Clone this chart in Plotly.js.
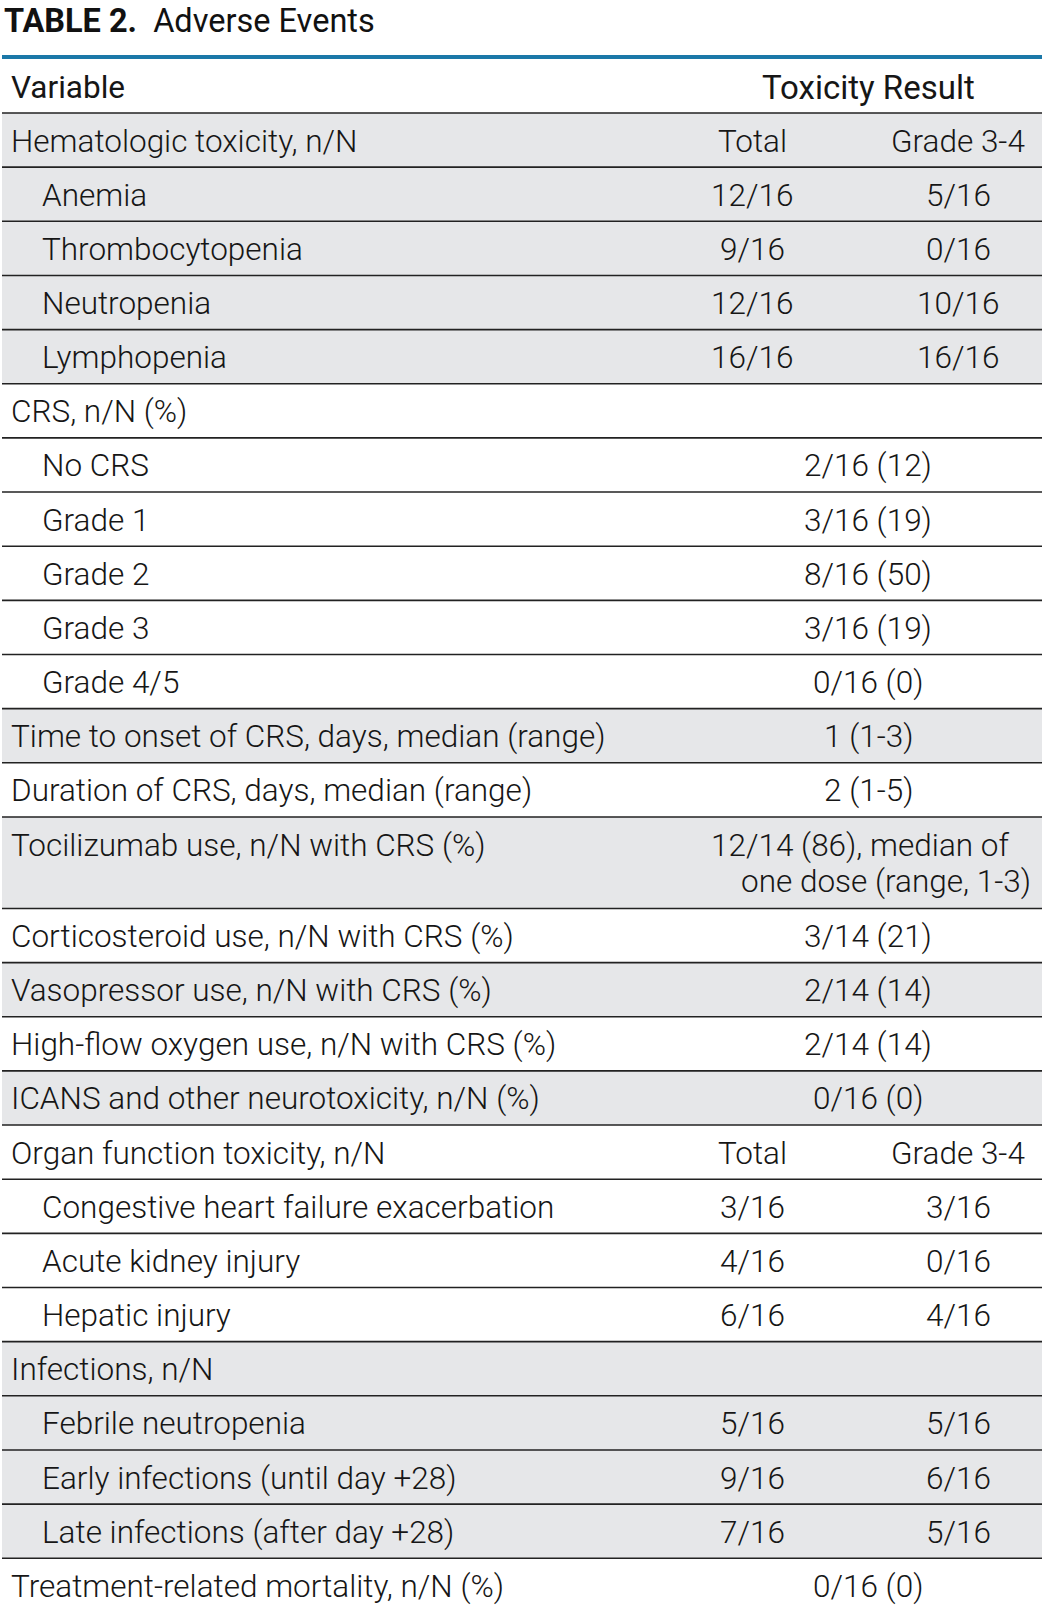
<!DOCTYPE html>
<html><head><meta charset="utf-8">
<script src="https://cdn.plot.ly/plotly-3.0.1.min.js"></script>
<style>html,body{margin:0;padding:0;background:#fff;overflow:hidden}</style>
</head><body><div id="chart" style="width:1042px;height:1614px"></div>
<script>
// ---------- DATA ----------
const tableLabel = "TABLE 2.";
const tableName = "Adverse Events";
const headerVariable = "Variable";
const headerResult = "Toxicity Result";

const variables = [
  "Hematologic toxicity, n/N",
  "Anemia",
  "Thrombocytopenia",
  "Neutropenia",
  "Lymphopenia",
  "CRS, n/N (%)",
  "No CRS",
  "Grade 1",
  "Grade 2",
  "Grade 3",
  "Grade 4/5",
  "Time to onset of CRS, days, median (range)",
  "Duration of CRS, days, median (range)",
  "Tocilizumab use, n/N with CRS (%)",
  "Corticosteroid use, n/N with CRS (%)",
  "Vasopressor use, n/N with CRS (%)",
  "High-flow oxygen use, n/N with CRS (%)",
  "ICANS and other neurotoxicity, n/N (%)",
  "Organ function toxicity, n/N",
  "Congestive heart failure exacerbation",
  "Acute kidney injury",
  "Hepatic injury",
  "Infections, n/N",
  "Febrile neutropenia",
  "Early infections (until day +28)",
  "Late infections (after day +28)",
  "Treatment-related mortality, n/N (%)"
];
const totalValues = [
  "Total", "12/16", "9/16", "12/16", "16/16",
  "", "", "", "", "", "", "", "", "", "", "", "", "",
  "Total", "3/16", "4/16", "6/16",
  "", "5/16", "9/16", "7/16", ""
];
const grade34Values = [
  "Grade 3-4", "5/16", "0/16", "10/16", "16/16",
  "", "", "", "", "", "", "", "", "", "", "", "", "",
  "Grade 3-4", "3/16", "0/16", "4/16",
  "", "5/16", "6/16", "5/16", ""
];
const combinedValues = [
  "", "", "", "", "",
  "", "2/16 (12)", "3/16 (19)", "8/16 (50)", "3/16 (19)", "0/16 (0)",
  "1 (1-3)", "2 (1-5)",
  "12/14 (86), median of|one dose (range, 1-3)",
  "3/14 (21)", "2/14 (14)", "2/14 (14)", "0/16 (0)",
  "", "", "", "",
  "", "", "", "", "0/16 (0)"
];

// ---------- STYLE ----------
const indentedRows = [1,2,3,4,6,7,8,9,10,19,20,21,23,24,25];
const shadedRows = [0,1,2,3,4,11,13,15,17,22,23,24,25];
const tallRows = {13: 91.5};
const W = 1042, H = 1614;
const rowH = 54.15;
const tableLeft = 2, tableRight = 1042;
const headerTop = 59, headerBottom = 113;
const textLeft = 9, indentLeft = 40;
const totalCenter = 752, gradeCenter = 958, spanCenter = 868;
const txtColor = "#161616";
const shade = "#e6e7e9";
const ruleColor = "#1b78a8";
const baseFont = {family: "Roboto, 'Open Sans', sans-serif", size: 31.5, weight: 300, color: txtColor};

const shapes = [];
const annotations = [];

function ann(text, x, y, xanchor, extra) {
  annotations.push(Object.assign({
    xref: "x", yref: "y", x: x, y: y, text: text, showarrow: false,
    xanchor: xanchor, yanchor: "middle", font: baseFont, align: xanchor
  }, extra || {}));
}

// Title
ann("<b>" + tableLabel + "</b>  " + tableName, tableLeft, 0, "left",
    {yanchor: "top", font: Object.assign({}, baseFont, {size: 32.5, weight: 400, color: "#111"})});
// Blue rule
shapes.push({type: "rect", xref: "x", yref: "y", x0: tableLeft, x1: tableRight, y0: 55, y1: 59,
  fillcolor: ruleColor, line: {width: 0}, layer: "above"});
// Header
const headFont = Object.assign({}, baseFont, {weight: 400});
ann(headerVariable, textLeft, (headerTop + headerBottom) / 2 + 1, "left", {font: headFont});
ann(headerResult, spanCenter, (headerTop + headerBottom) / 2 + 1, "center",
    {font: Object.assign({}, headFont, {size: 33})});

// Rows
let y = headerBottom;
const lines = [headerBottom];
variables.forEach(function (v, i) {
  const h = tallRows[i] || rowH;
  const y0 = y, y1 = y + h;
  if (shadedRows.indexOf(i) >= 0) {
    shapes.push({type: "rect", xref: "x", yref: "y", x0: tableLeft, x1: tableRight, y0: y0, y1: y1,
      fillcolor: shade, line: {width: 0}, layer: "below"});
  }
  const cy = (y0 + y1) / 2 + 1;
  const tall = !!tallRows[i];
  const labelY = tall ? y0 + 28.5 : cy;
  ann(v, indentedRows.indexOf(i) >= 0 ? indentLeft : textLeft, labelY, "left");
  if (totalValues[i]) ann(totalValues[i], totalCenter, cy, "center");
  if (grade34Values[i]) ann(grade34Values[i], gradeCenter, cy, "center");
  if (combinedValues[i]) {
    const parts = combinedValues[i].split("|");
    if (parts.length === 1) {
      ann(parts[0], spanCenter, cy, "center");
    } else {
      ann(parts[0], 709, y0 + 28.5, "left");
      ann(parts[1], 739, y0 + 64.5, "left");
    }
  }
  y = y1;
  if (i < variables.length - 1) lines.push(y);
});
lines.forEach(function (ly) {
  shapes.push({type: "line", xref: "x", yref: "y", x0: tableLeft, x1: tableRight, y0: ly, y1: ly,
    line: {color: "#222", width: 1.6}, layer: "above"});
});

const layout = {
  width: W, height: H,
  margin: {l: 0, r: 0, t: 0, b: 0, pad: 0},
  paper_bgcolor: "#ffffff", plot_bgcolor: "#ffffff",
  xaxis: {range: [0, W], visible: false, fixedrange: true},
  yaxis: {range: [H, 0], visible: false, fixedrange: true},
  showlegend: false,
  shapes: shapes,
  annotations: annotations
};
Plotly.newPlot("chart", [{type: "scatter", x: [], y: [], hoverinfo: "skip"}], layout,
  {staticPlot: true, displayModeBar: false});
</script>
</body></html>
